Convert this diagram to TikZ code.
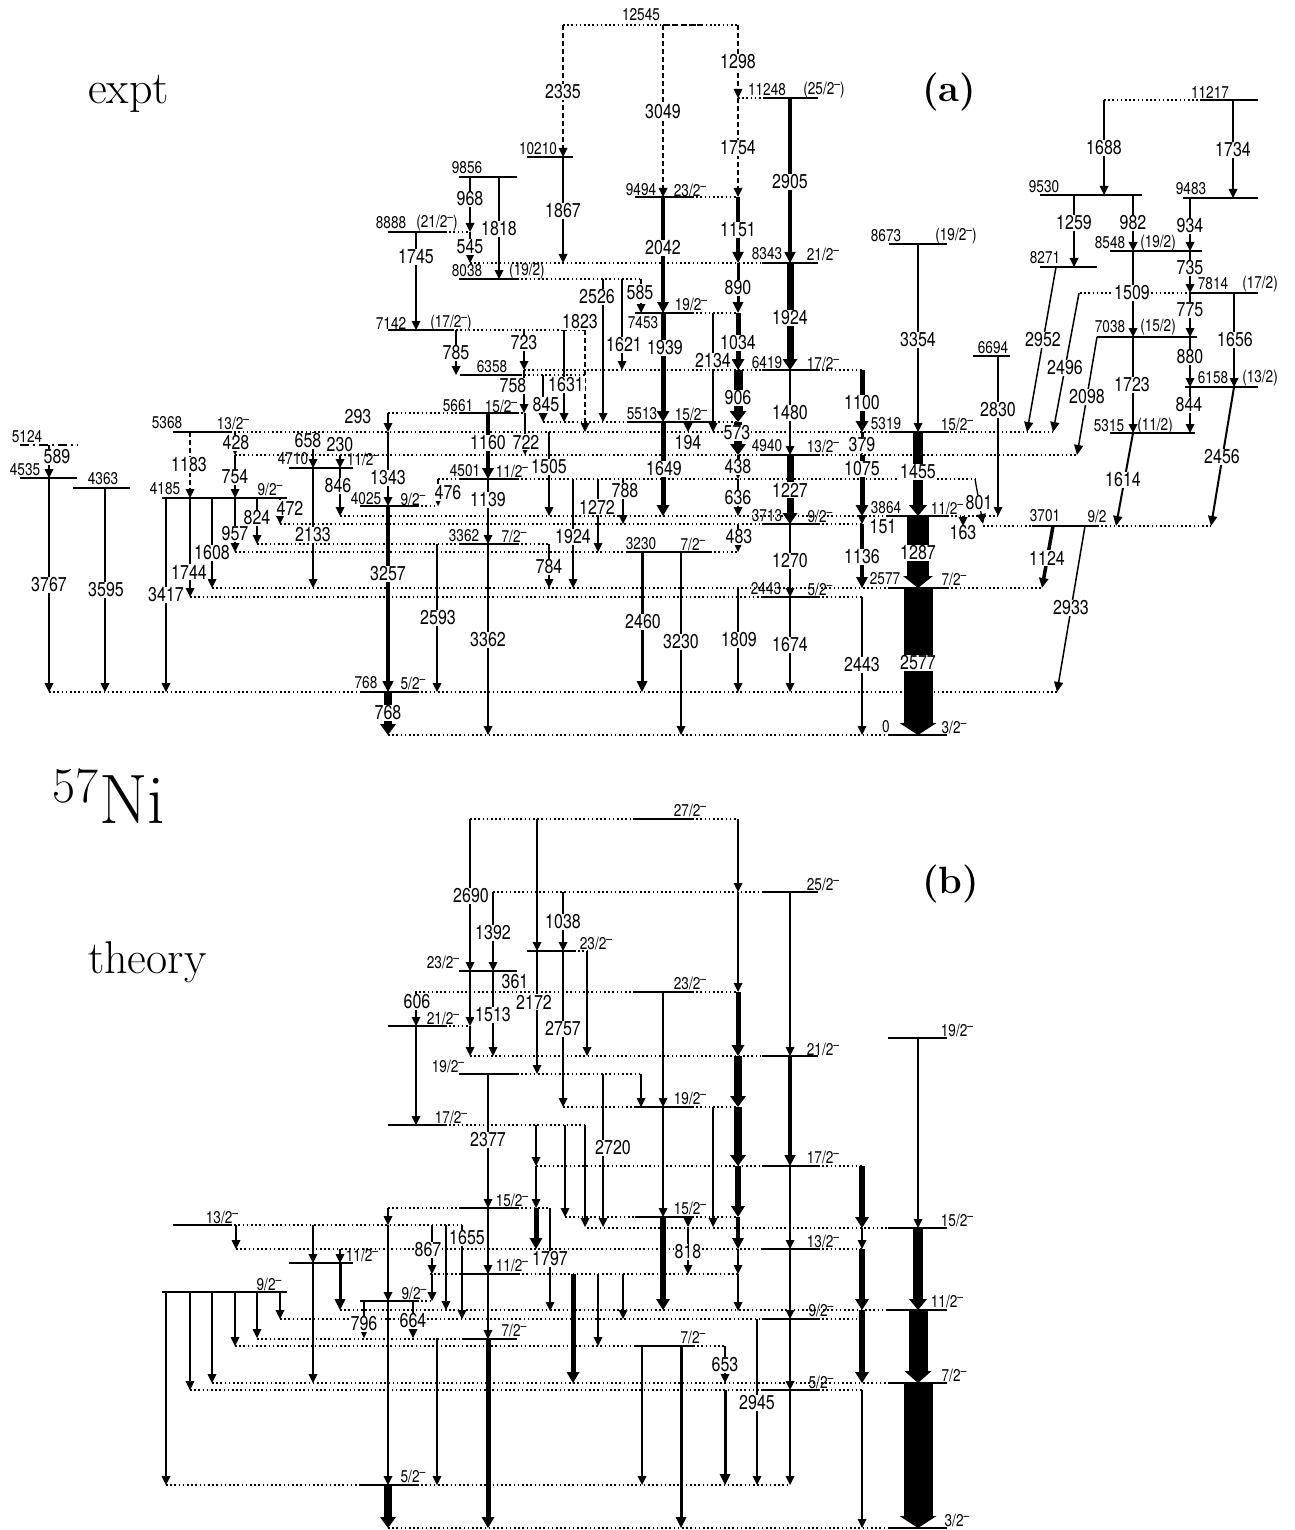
\documentclass[tikz,border=0pt]{standalone}
\usepackage{fontspec}
\usetikzlibrary{arrows.meta}
\newfontfamily\HvFam[FakeStretch=0.8]{TeX Gyre Heros}
\newcommand{\TrFont}{\HvFam\fontsize{20}{22}\selectfont}
\newcommand{\EnFont}{\HvFam\fontsize{17}{19}\selectfont}
\newcommand{\Mn}{\raisebox{5.5pt}{\HvFam\fontsize{13}{13}\selectfont –}}
\tikzset{
  lvl/.style={line width=1.6pt},
  dotl/.style={line width=1.3pt, dash pattern=on 1.6pt off 2.6pt},
  tlab/.style={font=\TrFont, fill=white, inner sep=1pt},
  elab/.style={font=\EnFont, inner sep=0pt},
  big/.style={anchor=base west, inner sep=0pt}
}
\newcommand{\LvS}[3]{\draw[lvl] (#1,#3) -- (#2,#3);}
\newcommand{\LvD}[3]{\draw[dotl] (#1,#3) -- (#2,#3);}
\newcommand{\Gam}[4]{%
  \pgfmathsetmacro{\GmW}{#4/2}%
  \pgfmathsetmacro{\GmH}{#4<3 ? 9 : (#4<12 ? 11 : 12)}%
  \pgfmathsetmacro{\GmA}{#4<3 ? 4.5 : #4/2+4}%
  \fill (#1-\GmW,#2) rectangle (#1+\GmW,#3-\GmH);
  \fill (#1-\GmA,#3-\GmH) -- (#1+\GmA,#3-\GmH) -- (#1,#3) -- cycle;}
\newcommand{\GamD}[3]{%
  \draw[line width=1.3pt, dash pattern=on 5pt off 3pt] (#1,#2) -- (#1,#3-8);
  \fill (#1-4.5,#3-9) -- (#1+4.5,#3-9) -- (#1,#3) -- cycle;}
\newcommand{\GamS}[5]{\draw[line width=#5pt, -{Triangle[length=10pt,width=9pt]}] (#1,#2) -- (#3,#4);}
\newcommand{\TrL}[3]{\node[tlab] (t#1x#2) at (#1,#2) {#3};}
\newcommand{\EnL}[3]{\node[elab] (e#1x#2) at (#1,#2) {#3};}
\begin{document}
\begin{tikzpicture}[x=1pt,y=-1pt]
\fill[white] (0,0) rectangle (1294,1530);
\useasboundingbox (0,0) rectangle (1294,1530);

% ================= TOP PANEL: levels =================
\LvD{563}{738}{25}
\draw[line width=1.3pt, dash pattern=on 6pt off 3pt] (663,25) -- (702,25);
\LvD{738}{763}{98} \LvS{763}{818}{98}
\LvD{1104}{1200}{100} \LvS{1200}{1258}{100}
\LvS{527}{573}{157}
\LvS{459}{517}{177}
\LvS{1040}{1142}{195}
\LvS{635}{692}{197} \LvD{692}{738}{197}
\LvS{1183}{1258}{198}
\LvS{388}{445}{232} \LvD{445}{470}{232}
\LvS{889}{947}{244}
\LvS{1110}{1202}{251}
\LvD{470}{762}{263} \LvS{762}{818}{263}
\LvS{1040}{1097}{267}
\LvS{459}{517}{279} \LvD{517}{641}{279}
\LvD{1080}{1190}{293} \LvS{1190}{1258}{293}
\LvS{635}{692}{313} \LvD{692}{738}{313}
\LvS{388}{452}{330} \LvD{452}{585}{330}
\LvS{1097}{1197}{337}
\LvS{973}{1010}{356}
\LvD{524}{762}{370} \LvS{762}{818}{370} \LvD{818}{862}{370}
\LvS{460}{520}{375} \LvD{520}{585}{375}
\LvS{1185}{1258}{387}
\LvD{388}{459}{413} \LvS{459}{517}{413} \LvD{517}{525}{413}
\LvD{543}{627}{422} \LvS{627}{710}{422} \LvD{710}{738}{422}
\LvS{173}{230}{432} \LvD{230}{889}{432} \LvS{889}{947}{432} \LvD{947}{1053}{432}
\LvS{1110}{1195}{433}
\draw[lvl, dash pattern=on 9pt off 4pt on 2pt off 4pt] (20,445) -- (78,445);
\LvD{235}{762}{455} \LvS{762}{818}{455} \LvD{818}{1077}{455}
\LvS{289}{353}{468}
\LvS{20}{77}{478}
\LvD{438}{459}{479} \LvS{459}{517}{479} \LvD{517}{975}{479}
\LvS{73}{130}{488}
\LvS{162}{287}{498}
\LvS{360}{417}{506} \LvD{417}{438}{506}
\LvD{340}{888}{516} \LvS{888}{947}{516} \LvD{947}{998}{516}
\LvD{280}{762}{524} \LvS{762}{818}{524} \LvD{818}{862}{524}
\LvD{983}{1032}{526} \LvS{1032}{1097}{526} \LvD{1097}{1211}{526}
\LvD{257}{459}{544} \LvS{459}{517}{544} \LvD{517}{549}{544}
\LvD{235}{627}{552} \LvS{627}{710}{552} \LvD{710}{738}{552}
\LvD{212}{888}{588} \LvS{888}{947}{588} \LvD{947}{1042}{588}
\LvD{190}{762}{597} \LvS{762}{818}{597} \LvD{818}{862}{597}
\LvD{49}{360}{692} \LvS{360}{417}{692} \LvD{417}{1057}{692}
\LvD{388}{888}{735} \LvS{888}{947}{735}

% ================= TOP PANEL: transitions =================
\GamD{563}{25}{157}
\GamD{663}{25}{197}
\GamD{738}{25}{98}
\GamD{738}{98}{197}
\Gam{790}{98}{263}{3.5}
\Gam{563}{157}{263}{1.5}
\Gam{470}{177}{232}{1.5}
\Gam{499}{177}{279}{1.5}
\Gam{470}{232}{263}{1.3}
\Gam{416}{232}{330}{2}
\Gam{738}{197}{263}{3.5}
\Gam{663}{197}{313}{4}
\Gam{790}{263}{370}{7}
\Gam{738}{263}{313}{3}
\Gam{603}{279}{422}{1.5}
\Gam{622}{279}{370}{1.5}
\GamD{641}{279}{313}
\Gam{663}{313}{422}{5}
\Gam{713}{313}{432}{2}
\Gam{738}{313}{370}{5}
\Gam{456}{330}{375}{2}
\Gam{524}{330}{370}{2.5}
\Gam{564}{330}{422}{1.5}
\GamD{585}{330}{432}
\Gam{738}{370}{422}{9}
\Gam{790}{370}{455}{1.5}
\Gam{862}{370}{432}{5}
\Gam{524}{370}{413}{1.5}
\Gam{543}{375}{422}{1.5}
\Gam{918}{244}{432}{1.3}
\Gam{1104}{100}{195}{2}
\Gam{1233}{100}{198}{1.5}
\Gam{1074}{195}{267}{1.5}
\Gam{1133}{195}{251}{1.3}
\Gam{1190}{198}{251}{1.5}
\Gam{1190}{251}{293}{1.5}
\Gam{1133}{251}{337}{1.3}
\Gam{1190}{293}{337}{1.5}
\Gam{1234}{293}{387}{1.5}
\Gam{1133}{337}{433}{1.5}
\Gam{1190}{337}{387}{1.5}
\Gam{1190}{387}{433}{1.5}
\Gam{998}{356}{516}{1.5}
\GamS{1056}{267}{1027}{432}{1.5}
\GamS{1079}{293}{1053}{432}{1.5}
\GamS{1097}{337}{1077}{455}{1.5}
\GamS{1234}{387}{1211}{526}{2}
\GamS{1133}{433}{1116}{526}{2}
\Gam{388}{413}{432}{1.5}
\Gam{488}{413}{479}{4}
\Gam{525}{413}{455}{1.3}
\Gam{388}{432}{506}{1.5}
\Gam{663}{422}{516}{5}
\Gam{688}{422}{432}{1.3}
\Gam{738}{422}{455}{8}
\Gam{549}{432}{516}{1.5}
\GamD{190}{432}{498}
\Gam{235}{432}{455}{1.5}
\Gam{313}{432}{468}{1.5}
\Gam{918}{432}{516}{10}
\Gam{862}{432}{455}{3}
\Gam{49}{445}{478}{1.5}
\Gam{738}{455}{479}{3}
\Gam{790}{455}{524}{7}
\Gam{862}{455}{516}{5}
\Gam{235}{455}{498}{2}
\Gam{340}{455}{468}{2}
\Gam{313}{468}{588}{2}
\Gam{340}{468}{516}{2}
\Gam{49}{478}{692}{1.5}
\Gam{488}{479}{544}{2}
\GamD{438}{479}{506}
\Gam{738}{479}{516}{2}
\Gam{573}{479}{588}{2}
\Gam{598}{479}{552}{1.5}
\Gam{623}{479}{524}{1.5}
\Gam{105}{488}{692}{1.5}
\Gam{166}{498}{692}{1.5}
\Gam{190}{498}{597}{1.5}
\Gam{212}{498}{588}{1.5}
\Gam{235}{498}{552}{1.5}
\Gam{257}{498}{544}{1.5}
\Gam{280}{498}{524}{1.5}
\Gam{388}{506}{692}{3.5}
\Gam{918}{516}{588}{22}
\Gam{862}{516}{524}{1.3}
\Gam{963}{516}{526}{1.3}
\GamS{975}{479}{983}{524}{1.3}
\Gam{790}{524}{597}{2}
\Gam{738}{524}{552}{1.3}
\Gam{862}{524}{588}{4}
\GamS{1053}{526}{1042}{588}{3.5}
\GamS{1085}{526}{1057}{692}{1.5}
\Gam{488}{544}{735}{1.5}
\Gam{437}{544}{692}{2.5}
\Gam{549}{544}{588}{1.3}
\Gam{642}{552}{692}{3}
\Gam{681}{552}{735}{2}
\Gam{918}{588}{735}{29}
\Gam{862}{597}{735}{2}
\Gam{738}{588}{692}{1.5}
\Gam{790}{597}{692}{1.5}
\Gam{388}{692}{735}{8}

% ================= TOP PANEL: transition labels =================
\TrL{563}{92}{2335} \TrL{663}{112}{3049} \TrL{738}{62}{1298} \TrL{738}{148}{1754}
\TrL{790}{182}{2905} \TrL{563}{211}{1867} \TrL{470}{199}{968} \TrL{499}{229}{1818}
\TrL{470}{247}{545} \TrL{416}{257}{1745} \TrL{738}{230}{1151} \TrL{663}{248}{2042}
\TrL{790}{318}{1924} \TrL{738}{288}{890} \TrL{597}{297}{2526} \TrL{640}{293}{585}
\TrL{665}{348}{1939} \TrL{713}{361}{2134} \TrL{738}{343}{1034} \TrL{456}{353}{785}
\TrL{524}{343}{723} \TrL{580}{322}{1823} \TrL{624}{345}{1621} \TrL{566}{385}{1631}
\TrL{738}{398}{906} \TrL{790}{413}{1480} \TrL{862}{403}{1100} \TrL{513}{386}{758}
\TrL{546}{405}{845} \TrL{918}{340}{3354}
\TrL{1104}{148}{1688} \TrL{1233}{150}{1734} \TrL{1074}{223}{1259} \TrL{1133}{223}{982}
\TrL{1190}{226}{934} \TrL{1190}{268}{735} \TrL{1132}{293}{1509} \TrL{1190}{310}{775}
\TrL{1235}{340}{1656} \TrL{1132}{385}{1723} \TrL{1190}{357}{880} \TrL{1189}{405}{844}
\TrL{998}{410}{2830} \TrL{1043}{340}{2952} \TrL{1065}{368}{2496} \TrL{1087}{397}{2098}
\TrL{1222}{457}{2456} \TrL{1123}{480}{1614}
\TrL{358}{417}{293} \TrL{488}{443}{1160} \TrL{526}{442}{722} \TrL{388}{478}{1343}
\TrL{664}{469}{1649} \TrL{688}{443}{194} \TrL{737}{433}{573} \TrL{549}{467}{1505}
\TrL{189}{465}{1183} \TrL{236}{443}{428} \TrL{308}{441}{658} \TrL{918}{472}{1455}
\TrL{862}{445}{379} \TrL{57}{457}{589} \TrL{738}{467}{438} \TrL{790}{490}{1227}
\TrL{862}{469}{1075} \TrL{235}{477}{754} \TrL{340}{445}{230} \TrL{313}{535}{2133}
\TrL{338}{486}{846} \TrL{49}{585}{3767} \TrL{488}{500}{1139} \TrL{448}{493}{476}
\TrL{738}{498}{636} \TrL{573}{537}{1924} \TrL{597}{507}{1272} \TrL{625}{491}{788}
\TrL{106}{590}{3595} \TrL{166}{595}{3417} \TrL{189}{572}{1744} \TrL{212}{553}{1608}
\TrL{235}{534}{957} \TrL{257}{518}{824} \TrL{290}{508}{472} \TrL{388}{574}{3257}
\TrL{918}{553}{1287} \TrL{883}{527}{151} \TrL{963}{533}{163} \TrL{979}{503}{801}
\TrL{790}{561}{1270} \TrL{739}{537}{483} \TrL{862}{557}{1136} \TrL{1047}{558}{1124}
\TrL{1071}{608}{2933} \TrL{488}{640}{3362} \TrL{438}{618}{2593} \TrL{549}{567}{784}
\TrL{643}{622}{2460} \TrL{681}{642}{3230} \TrL{918}{663}{2577} \TrL{862}{665}{2443}
\TrL{739}{640}{1809} \TrL{790}{645}{1674} \TrL{388}{713}{768}

% ================= TOP PANEL: level labels =================
\EnL{641}{15}{12545}
\EnL{767}{90}{11248} \EnL{824}{90}{(25/2\Mn)}
\EnL{1210}{92}{11217}
\EnL{538}{149}{10210}
\EnL{467}{168}{9856}
\EnL{1044}{187}{9530}
\EnL{641}{190}{9494} \EnL{690}{190}{23/2\Mn}
\EnL{1191}{189}{9483}
\EnL{391}{223}{8888} \EnL{437}{223}{(21/2\Mn)}
\EnL{886}{236}{8673} \EnL{956}{236}{(19/2\Mn)}
\EnL{1110}{243}{8548} \EnL{1158}{243}{(19/2)}
\EnL{767}{254}{8343} \EnL{823}{254}{21/2\Mn}
\EnL{1045}{258}{8271}
\EnL{467}{271}{8038} \EnL{527}{271}{(19/2)}
\EnL{1213}{284}{7814} \EnL{1260}{284}{(17/2)}
\EnL{691}{304}{19/2\Mn} \EnL{643}{323}{7453}
\EnL{391}{323}{7142} \EnL{451}{323}{(17/2\Mn)}
\EnL{1110}{327}{7038} \EnL{1158}{327}{(15/2)}
\EnL{993}{348}{6694}
\EnL{767}{363}{6419} \EnL{823}{363}{17/2\Mn}
\EnL{492}{367}{6358}
\EnL{1213}{378}{6158} \EnL{1260}{378}{(13/2)}
\EnL{458}{406}{5661} \EnL{501}{406}{15/2\Mn}
\EnL{642}{414}{5513} \EnL{691}{414}{15/2\Mn}
\EnL{167}{423}{5368} \EnL{233}{423}{13/2\Mn}
\EnL{886}{424}{5319} \EnL{957}{424}{15/2\Mn}
\EnL{1109}{426}{5315} \EnL{1155}{426}{(11/2)}
\EnL{27}{437}{5124}
\EnL{767}{446}{4940} \EnL{823}{446}{13/2\Mn}
\EnL{293}{459}{4710} \EnL{363}{459}{11/2\Mn}
\EnL{25}{470}{4535}
\EnL{465}{471}{4501} \EnL{512}{471}{11/2\Mn}
\EnL{103}{479}{4363}
\EnL{165}{489}{4185} \EnL{270}{489}{9/2\Mn}
\EnL{366}{499}{4025} \EnL{413}{499}{9/2\Mn}
\EnL{886}{508}{3864} \EnL{947}{508}{11/2\Mn}
\EnL{767}{516}{3713} \EnL{820}{516}{9/2\Mn}
\EnL{1045}{516}{3701} \EnL{1097}{516}{9/2}
\EnL{464}{536}{3362} \EnL{514}{536}{7/2\Mn}
\EnL{641}{544}{3230} \EnL{693}{544}{7/2\Mn}
\EnL{885}{579}{2577} \EnL{954}{579}{7/2\Mn}
\EnL{766}{589}{2443} \EnL{820}{589}{5/2\Mn}
\EnL{366}{683}{768} \EnL{413}{683}{5/2\Mn}
\EnL{886}{727}{0} \EnL{954}{727}{3/2\Mn}

% ================= BOTTOM PANEL: levels =================
\LvD{470}{633}{819} \LvS{633}{692}{819} \LvD{692}{738}{819}
\LvD{493}{762}{892} \LvS{762}{818}{892}
\LvS{527}{574}{951} \LvD{574}{587}{951}
\LvS{459}{517}{971}
\LvD{415}{635}{992} \LvS{635}{692}{992} \LvD{692}{738}{992}
\LvS{388}{445}{1026} \LvD{445}{470}{1026}
\LvS{888}{947}{1038}
\LvD{470}{762}{1056} \LvS{762}{818}{1056}
\LvS{459}{517}{1074} \LvD{517}{641}{1074}
\LvD{563}{635}{1107} \LvS{635}{692}{1107} \LvD{692}{738}{1107}
\LvS{388}{445}{1125} \LvD{445}{585}{1125}
\LvD{536}{762}{1166} \LvS{762}{818}{1166} \LvD{818}{862}{1166}
\LvD{388}{459}{1208} \LvS{459}{517}{1208} \LvD{517}{550}{1208}
\LvD{565}{635}{1217} \LvS{635}{692}{1217} \LvD{692}{738}{1217}
\LvS{173}{230}{1225} \LvD{230}{462}{1225}
\LvD{587}{888}{1228} \LvS{888}{947}{1228}
\LvD{236}{762}{1249} \LvS{762}{818}{1249} \LvD{818}{862}{1249}
\LvS{289}{353}{1263}
\LvD{430}{462}{1274} \LvS{462}{518}{1274} \LvD{518}{738}{1274}
\LvS{162}{287}{1292}
\LvS{360}{417}{1301} \LvD{417}{432}{1301}
\LvD{340}{888}{1310} \LvS{888}{947}{1310}
\LvD{280}{762}{1319} \LvS{762}{818}{1319} \LvD{818}{862}{1319}
\LvD{257}{462}{1339} \LvS{462}{517}{1339}
\LvD{235}{636}{1346} \LvS{636}{693}{1346} \LvD{693}{725}{1346}
\LvD{212}{888}{1383} \LvS{888}{947}{1383}
\LvD{190}{762}{1390} \LvS{762}{818}{1390} \LvD{818}{862}{1390}
\LvD{166}{360}{1485} \LvS{360}{417}{1485} \LvD{417}{790}{1485}
\LvD{388}{888}{1528} \LvS{888}{947}{1528}

% ================= BOTTOM PANEL: transitions =================
\Gam{470}{819}{971}{1.5}
\Gam{537}{819}{951}{1.5}
\Gam{738}{819}{892}{1.3}
\Gam{493}{892}{971}{1.5}
\Gam{563}{892}{951}{1.5}
\Gam{738}{892}{992}{2.5}
\Gam{790}{892}{1056}{1.3}
\Gam{537}{951}{1074}{1.5}
\Gam{563}{951}{1107}{1.5}
\Gam{587}{951}{1056}{1.3}
\Gam{470}{971}{1026}{2.5}
\Gam{470}{1026}{1056}{2.5}
\Gam{493}{971}{1056}{1.5}
\Gam{416}{992}{1026}{1.5}
\Gam{663}{992}{1107}{1.3}
\Gam{738}{992}{1056}{5}
\Gam{416}{1026}{1125}{2}
\Gam{738}{1056}{1107}{8}
\Gam{790}{1056}{1166}{3.5}
\Gam{488}{1074}{1208}{1.5}
\Gam{641}{1074}{1107}{1.5}
\Gam{603}{1074}{1227}{2.5}
\Gam{918}{1038}{1228}{1.3}
\Gam{663}{1107}{1217}{1.3}
\Gam{713}{1107}{1227}{1.3}
\Gam{738}{1107}{1166}{8}
\Gam{536}{1125}{1166}{1.5}
\Gam{536}{1166}{1208}{2.5}
\Gam{536}{1208}{1249}{5}
\Gam{565}{1125}{1217}{1.3}
\Gam{585}{1125}{1227}{2.5}
\Gam{738}{1166}{1217}{6}
\Gam{738}{1217}{1249}{4}
\Gam{738}{1249}{1274}{2.5}
\Gam{738}{1274}{1311}{2.5}
\Gam{790}{1166}{1249}{2}
\Gam{790}{1249}{1319}{1.5}
\Gam{790}{1319}{1390}{1.5}
\Gam{790}{1390}{1485}{1.3}
\Gam{862}{1166}{1228}{6}
\Gam{862}{1228}{1249}{1.3}
\Gam{862}{1249}{1310}{6}
\Gam{862}{1310}{1383}{6}
\Gam{862}{1390}{1528}{1.5}
\Gam{918}{1228}{1310}{10}
\Gam{918}{1310}{1383}{19}
\Gam{918}{1383}{1528}{29}
\Gam{388}{1208}{1225}{1.5}
\Gam{388}{1225}{1301}{1.5}
\Gam{388}{1301}{1485}{1.5}
\Gam{388}{1485}{1528}{8}
\Gam{550}{1208}{1311}{1.5}
\Gam{488}{1208}{1274}{1.5}
\Gam{488}{1274}{1339}{1.5}
\Gam{488}{1339}{1528}{5}
\Gam{688}{1217}{1227}{1.3}
\Gam{688}{1227}{1274}{1.3}
\Gam{663}{1217}{1310}{6}
\Gam{236}{1225}{1249}{2.5}
\Gam{313}{1225}{1263}{1.5}
\Gam{313}{1263}{1383}{1.5}
\Gam{340}{1249}{1263}{1.5}
\Gam{340}{1263}{1310}{3}
\Gam{166}{1292}{1485}{2.5}
\Gam{190}{1292}{1390}{1.5}
\Gam{212}{1292}{1383}{1.5}
\Gam{235}{1292}{1346}{1.5}
\Gam{257}{1292}{1338}{1.5}
\Gam{280}{1292}{1319}{1.5}
\Gam{364}{1301}{1338}{1.3}
\Gam{413}{1301}{1338}{1.3}
\Gam{432}{1225}{1274}{1.3}
\Gam{432}{1274}{1301}{2}
\Gam{446}{1225}{1310}{1.3}
\Gam{462}{1225}{1319}{1.3}
\Gam{573}{1274}{1383}{5}
\Gam{598}{1274}{1346}{1.3}
\Gam{623}{1274}{1319}{1.5}
\Gam{437}{1338}{1485}{1.3}
\Gam{642}{1346}{1485}{1.3}
\Gam{681}{1346}{1528}{3}
\Gam{725}{1346}{1383}{1.3}
\Gam{725}{1390}{1485}{3}
\Gam{757}{1319}{1485}{1.3}

% ================= BOTTOM PANEL: transition labels =================
\TrL{471}{896}{2690} \TrL{493}{933}{1392} \TrL{563}{922}{1038} \TrL{515}{982}{361}
\TrL{534}{1002}{2172} \TrL{493}{1015}{1513} \TrL{563}{1029}{2757} \TrL{417}{1002}{606}
\TrL{488}{1140}{2377} \TrL{613}{1148}{2720} \TrL{467}{1238}{1655} \TrL{428}{1250}{867}
\TrL{550}{1259}{1797} \TrL{688}{1252}{818} \TrL{725}{1365}{653} \TrL{757}{1403}{2945}
\TrL{364}{1324}{796} \TrL{413}{1321}{664}

% ================= BOTTOM PANEL: level labels =================
\EnL{690}{810}{27/2\Mn}
\EnL{823}{884}{25/2\Mn}
\EnL{596}{943}{23/2\Mn}
\EnL{443}{962}{23/2\Mn}
\EnL{690}{983}{23/2\Mn}
\EnL{443}{1018}{21/2\Mn}
\EnL{957}{1030}{19/2\Mn}
\EnL{823}{1049}{21/2\Mn}
\EnL{448}{1066}{19/2\Mn}
\EnL{690}{1098}{19/2\Mn}
\EnL{451}{1117}{17/2\Mn}
\EnL{823}{1157}{17/2\Mn}
\EnL{512}{1200}{15/2\Mn}
\EnL{690}{1208}{15/2\Mn}
\EnL{222}{1217}{13/2\Mn}
\EnL{957}{1220}{15/2\Mn}
\EnL{823}{1241}{13/2\Mn}
\EnL{362}{1255}{11/2\Mn}
\EnL{512}{1265}{11/2\Mn}
\EnL{269}{1284}{9/2\Mn}
\EnL{414}{1293}{9/2\Mn}
\EnL{947}{1301}{11/2\Mn}
\EnL{821}{1310}{9/2\Mn}
\EnL{514}{1330}{7/2\Mn}
\EnL{693}{1337}{7/2\Mn}
\EnL{954}{1375}{7/2\Mn}
\EnL{821}{1382}{5/2\Mn}
\EnL{413}{1476}{5/2\Mn}
\EnL{957}{1520}{3/2\Mn}

% ================= big labels =================
\node[big, font=\fontsize{46}{50}\selectfont] (expt) at (88,104) {expt};
\node[big, font=\fontsize{46}{50}\selectfont] (theory) at (88,973) {theory};
\node[big, font=\bfseries\fontsize{38}{42}\selectfont] (pa) at (922,102) {(a)};
\node[big, font=\bfseries\fontsize{38}{42}\selectfont] (pb) at (922,893) {(b)};
\node[big, font=\fontsize{70}{74}\selectfont] (ni) at (52,823) {\raisebox{21pt}{\fontsize{50}{54}\selectfont 57}\kern1pt Ni};
\end{tikzpicture}
\end{document}
